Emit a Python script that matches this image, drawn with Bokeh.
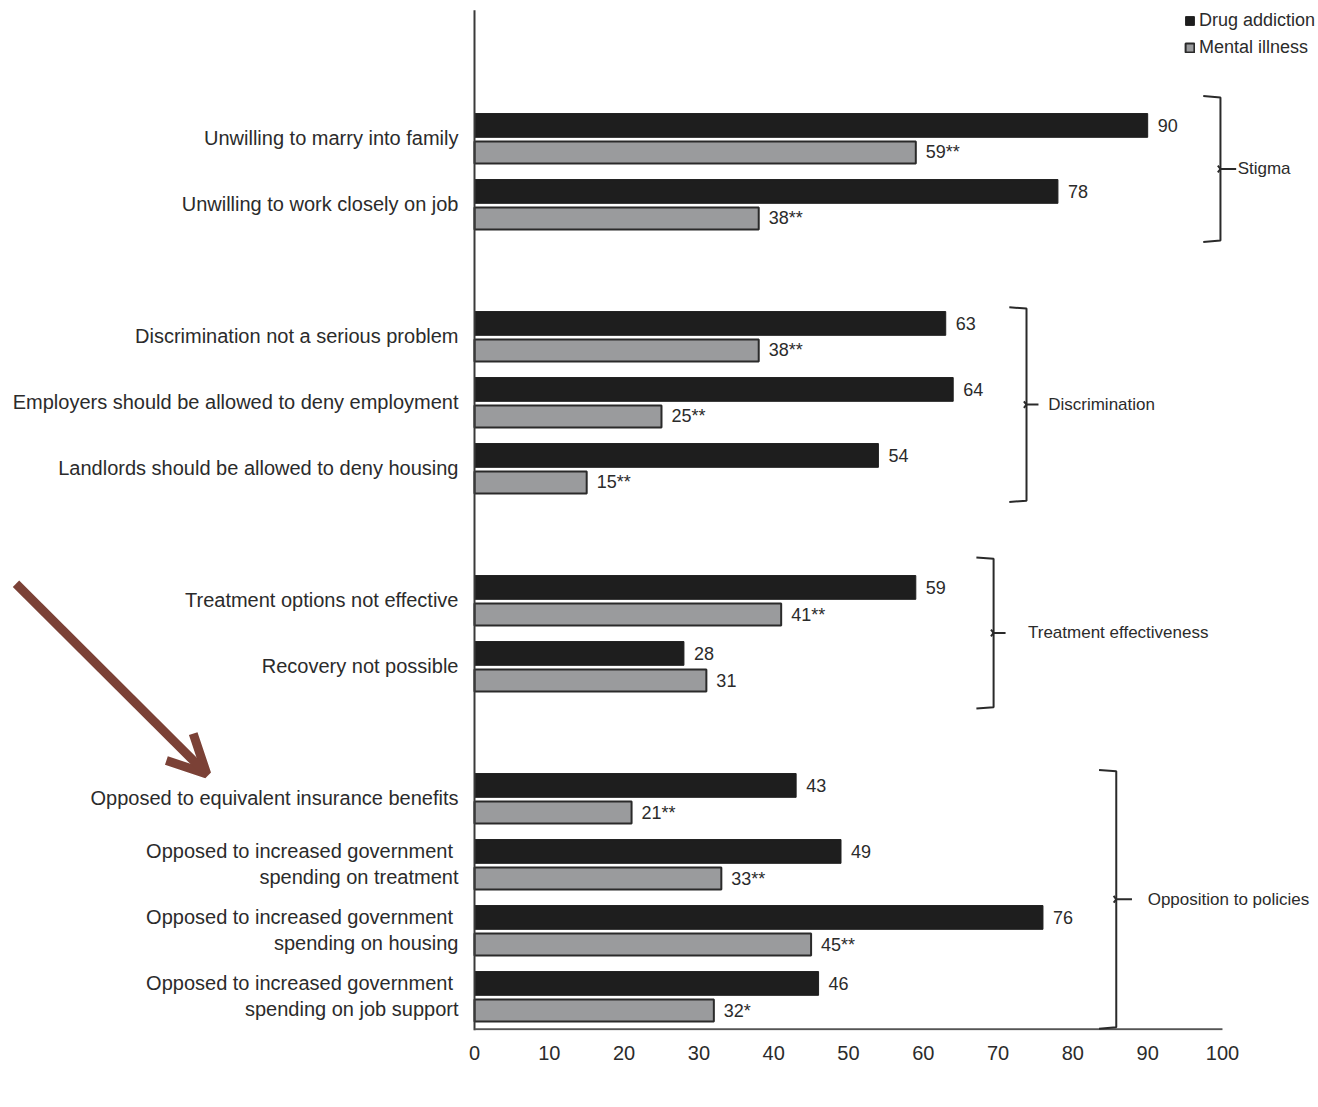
from bokeh.plotting import figure
from bokeh.models import Range1d, FixedTicker, ColumnDataSource, Arrow, OpenHead, Legend, LegendItem, Label
from bokeh.core.properties import value
from bokeh.embed import file_html
from bokeh.resources import INLINE

# ---------------- data ----------------
items = [
    "Unwilling to marry into family",
    "Unwilling to work closely on job",
    "Discrimination not a serious problem",
    "Employers should be allowed to deny employment",
    "Landlords should be allowed to deny housing",
    "Treatment options not effective",
    "Recovery not possible",
    "Opposed to equivalent insurance benefits",
    "Opposed to increased government \nspending on treatment",
    "Opposed to increased government \nspending on housing",
    "Opposed to increased government \nspending on job support",
]
item_group = [0, 0, 1, 1, 1, 2, 2, 3, 3, 3, 3]
groups = ["Stigma", "Discrimination", "Treatment effectiveness", "Opposition to policies"]
drug_addiction = [90, 78, 63, 64, 54, 59, 28, 43, 49, 76, 46]
mental_illness = [59, 38, 38, 25, 15, 41, 31, 21, 33, 45, 32]
mental_sig = ["**", "**", "**", "**", "**", "**", "", "**", "**", "**", "*"]
x_ticks = [0, 10, 20, 30, 40, 50, 60, 70, 80, 90, 100]
series_names = ["Drug addiction", "Mental illness"]
x_title = "Percentage"

# ---------------- layout / style ----------------
FONT = "Liberation Sans"
TXT = "#2b2b2b"
BLACK = "#1e1e1e"
GRAY = "#9a9b9d"
BROWN = "#7b4136"

# row position: one blank row between groups
pos = [i + g for i, g in enumerate(item_group)]
OFF = 0.205

p = figure(width=1316, height=1105,
           x_range=Range1d(-63.37, 112.57), y_range=Range1d(13.508, -2.098),
           y_axis_location=None, output_backend="svg", toolbar_location=None,
           min_border_left=0, min_border_right=0, min_border_top=0, min_border_bottom=75)
p.grid.visible = False
p.outline_line_color = None
p.background_fill_color = "white"

ax = p.xaxis[0]
ax.ticker = FixedTicker(ticks=x_ticks)
ax.axis_line_color = None
ax.major_tick_line_color = None
ax.minor_tick_line_color = None
ax.major_tick_out = 0
ax.major_label_standoff = 15
ax.major_label_text_font = FONT
ax.major_label_text_font_size = "20px"
ax.major_label_text_color = TXT

src = ColumnDataSource(dict(
    y_d=[v - OFF for v in pos],
    y_m=[v + OFF for v in pos],
    y=pos,
    drug=drug_addiction,
    mental=mental_illness,
    drug_lbl=[str(v) for v in drug_addiction],
    mental_lbl=[f"{v}{s}" for v, s in zip(mental_illness, mental_sig)],
    label=items,
))

r_d = p.hbar(y="y_d", left=0, right="drug", height=0.36, source=src,
             fill_color=BLACK, line_color=BLACK, line_width=1)
r_m = p.hbar(y="y_m", left=0, right="mental", height=0.33, source=src,
             fill_color=GRAY, line_color="#2a2a2a", line_width=2)

p.text(x="drug", y="y_d", text="drug_lbl", source=src, x_offset=10,
       text_font=value(FONT), text_font_size="18px", text_color=TXT,
       text_baseline="middle", text_align="left")
p.text(x="mental", y="y_m", text="mental_lbl", source=src, x_offset=10,
       text_font=value(FONT), text_font_size="18px", text_color=TXT,
       text_baseline="middle", text_align="left")

p.text(x=0, y="y", text="label", source=src, x_offset=-16, y_offset=-1,
       text_font=value(FONT), text_font_size="20px", text_color=TXT,
       text_baseline="middle", text_align="right", text_line_height=1.2)

# axis lines
p.segment(x0=[0], y0=[-1.95], x1=[0], y1=[13.508], line_color="#3a3a3a", line_width=2)
p.segment(x0=[0], y0=[13.49], x1=[100], y1=[13.49], line_color="#555555", line_width=2)

# braces
brace_x = [99.73, 73.8, 69.4, 85.8]
brace_top = [-0.63, 2.57, 6.36, 9.58]
brace_bot = [1.54, 5.48, 8.61, 13.46]
tick_len = [2.1, 1.6, 1.6, 2.1]
label_gap = [2.3, 2.9, 4.6, 4.2]
hook = 2.3
xs, ys = [], []
gx, gy = [], []
for g in range(len(groups)):
    b, t, bt = brace_x[g], brace_top[g], brace_bot[g]
    mid = (t + bt) / 2
    xs.append([b - hook, b, b, b - hook])
    ys.append([t - 0.02, t, bt, bt + 0.02])
    xs.append([b - 0.35, b, b + tick_len[g]])
    ys.append([mid - 0.05, mid, mid])
    xs.append([b - 0.35, b])
    ys.append([mid + 0.05, mid])
    gx.append(b + label_gap[g])
    gy.append(mid)
p.multi_line(xs=xs, ys=ys, line_color="#2a2a2a", line_width=2)
p.text(x=gx, y=gy, text=groups, text_font=value(FONT), text_font_size="17px",
       text_color=TXT, text_baseline="middle", text_align="left")

# legend
legend = Legend(items=[LegendItem(label=series_names[0], renderers=[r_d]),
                       LegendItem(label=series_names[1], renderers=[r_m])],
                location=(1184, 971), orientation="vertical",
                glyph_width=11, glyph_height=11, label_standoff=4, spacing=3,
                padding=0, margin=0, border_line_color=None, background_fill_alpha=0,
                label_text_font=FONT, label_text_font_size="18px", label_text_color=TXT,
                label_height=24)
p.add_layout(legend)

# arrow
p.add_layout(Arrow(x_start=-61.3, y_start=6.74, x_end=-35.8, y_end=9.62,
                   line_color=BROWN, line_width=9,
                   end=OpenHead(size=38, line_color=BROWN, line_width=9)))

# x title
p.add_layout(Label(x=50, y=14.45, text=x_title, text_align="center", text_baseline="middle",
                   text_font=FONT, text_font_size="20px", text_color=TXT))

open("out.html", "w").write(file_html(p, INLINE))
